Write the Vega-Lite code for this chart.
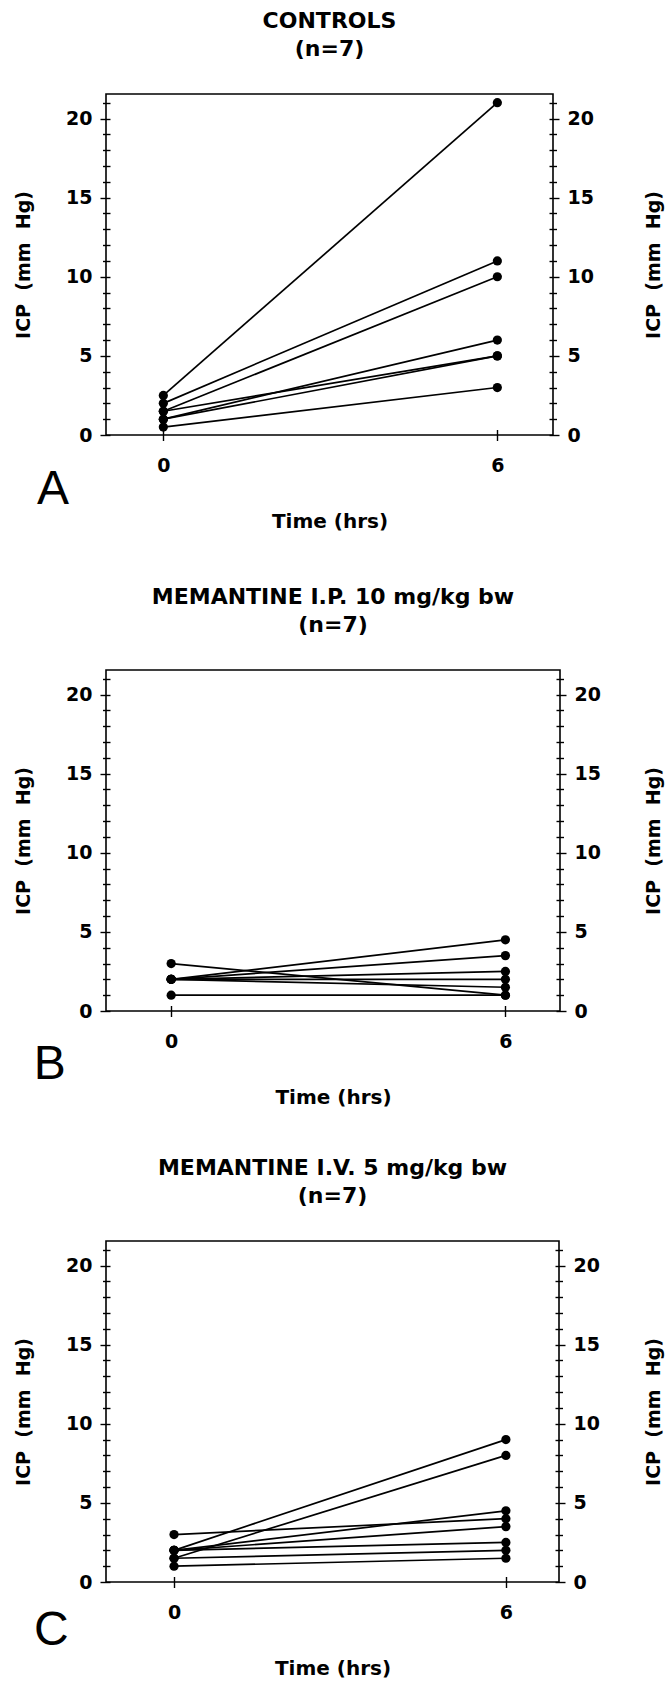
{
  "$schema": "https://vega.github.io/schema/vega-lite/v6.json",
  "padding": {"left": 13, "top": 8, "right": 0, "bottom": 0},
  "background": "white",
  "data": {"values": [
    {"panel": "A", "subject": "a1", "time": 0, "icp": 2.5}, {"panel": "A", "subject": "a1", "time": 6, "icp": 21},
    {"panel": "A", "subject": "a2", "time": 0, "icp": 2.0}, {"panel": "A", "subject": "a2", "time": 6, "icp": 11},
    {"panel": "A", "subject": "a3", "time": 0, "icp": 1.5}, {"panel": "A", "subject": "a3", "time": 6, "icp": 10},
    {"panel": "A", "subject": "a4", "time": 0, "icp": 1.0}, {"panel": "A", "subject": "a4", "time": 6, "icp": 6},
    {"panel": "A", "subject": "a5", "time": 0, "icp": 1.5}, {"panel": "A", "subject": "a5", "time": 6, "icp": 5},
    {"panel": "A", "subject": "a6", "time": 0, "icp": 1.0}, {"panel": "A", "subject": "a6", "time": 6, "icp": 5},
    {"panel": "A", "subject": "a7", "time": 0, "icp": 0.5}, {"panel": "A", "subject": "a7", "time": 6, "icp": 3},
    {"panel": "B", "subject": "b1", "time": 0, "icp": 3}, {"panel": "B", "subject": "b1", "time": 6, "icp": 1},
    {"panel": "B", "subject": "b2", "time": 0, "icp": 2}, {"panel": "B", "subject": "b2", "time": 6, "icp": 4.5},
    {"panel": "B", "subject": "b3", "time": 0, "icp": 2}, {"panel": "B", "subject": "b3", "time": 6, "icp": 3.5},
    {"panel": "B", "subject": "b4", "time": 0, "icp": 2}, {"panel": "B", "subject": "b4", "time": 6, "icp": 2.5},
    {"panel": "B", "subject": "b5", "time": 0, "icp": 2}, {"panel": "B", "subject": "b5", "time": 6, "icp": 2},
    {"panel": "B", "subject": "b6", "time": 0, "icp": 2}, {"panel": "B", "subject": "b6", "time": 6, "icp": 1.5},
    {"panel": "B", "subject": "b7", "time": 0, "icp": 1}, {"panel": "B", "subject": "b7", "time": 6, "icp": 1},
    {"panel": "C", "subject": "c1", "time": 0, "icp": 2}, {"panel": "C", "subject": "c1", "time": 6, "icp": 9},
    {"panel": "C", "subject": "c2", "time": 0, "icp": 1.5}, {"panel": "C", "subject": "c2", "time": 6, "icp": 8},
    {"panel": "C", "subject": "c3", "time": 0, "icp": 3}, {"panel": "C", "subject": "c3", "time": 6, "icp": 4.0},
    {"panel": "C", "subject": "c4", "time": 0, "icp": 2}, {"panel": "C", "subject": "c4", "time": 6, "icp": 4.5},
    {"panel": "C", "subject": "c5", "time": 0, "icp": 2}, {"panel": "C", "subject": "c5", "time": 6, "icp": 3.5},
    {"panel": "C", "subject": "c6", "time": 0, "icp": 2}, {"panel": "C", "subject": "c6", "time": 6, "icp": 2.5},
    {"panel": "C", "subject": "c7", "time": 0, "icp": 1.5}, {"panel": "C", "subject": "c7", "time": 6, "icp": 2},
    {"panel": "C", "subject": "c8", "time": 0, "icp": 1}, {"panel": "C", "subject": "c8", "time": 6, "icp": 1.5}
  ]},
  "spacing": 51,
  "vconcat": [
    {
      "width": 447, "height": 341,
      "title": {"text": ["CONTROLS", "(n=7)"]},
      "transform": [{"filter": "datum.panel === 'A'"}],
      "layer": [
        {
          "mark": {"type": "line", "color": "black", "strokeWidth": 1.7},
          "encoding": {
            "x": {"field": "time", "type": "quantitative", "scale": {"domain": [-1.03, 7], "nice": false, "zero": false},
              "axis": {"values": [0, 6], "tickSize": 11, "offset": -5.5, "labelPadding": 16, "title": "Time (hrs)", "titlePadding": 36}},
            "y": {"field": "icp", "type": "quantitative", "scale": {"domain": [0, 21.55], "nice": false},
              "axis": {"orient": "left", "values": [0,1,2,3,4,5,6,7,8,9,10,11,12,13,14,15,16,17,18,19,20,21],
                "labelExpr": "datum.value % 5 === 0 ? datum.label : ''",
                "tickSize": {"condition": {"test": "datum.value % 5 === 0", "value": 10}, "value": 7.5},
                "offset": -4, "labelPadding": 8, "title": "ICP\u00a0\u00a0(mm\u00a0\u00a0Hg)", "titlePadding": 32}},
            "detail": {"field": "subject"}
          }
        },
        {
          "mark": {"type": "point", "filled": true, "color": "black", "size": 85, "opacity": 1},
          "encoding": {
            "x": {"field": "time", "type": "quantitative", "scale": {"domain": [-1.03, 7], "nice": false, "zero": false},
              "axis": {"values": [0, 6], "tickSize": 11, "offset": -5.5, "labelPadding": 16, "title": "Time (hrs)", "titlePadding": 36}},
            "y": {"field": "icp", "type": "quantitative", "scale": {"domain": [0, 21.55], "nice": false},
              "axis": {"orient": "right", "values": [0,1,2,3,4,5,6,7,8,9,10,11,12,13,14,15,16,17,18,19,20,21],
                "labelExpr": "datum.value % 5 === 0 ? datum.label : ''",
                "tickSize": {"condition": {"test": "datum.value % 5 === 0", "value": 10}, "value": 7.5},
                "offset": -4, "labelPadding": 8, "title": "ICP\u00a0\u00a0(mm\u00a0\u00a0Hg)", "titleAngle": 270, "titlePadding": 70}}
          }
        },
        {
          "data": {"values": [{"label": "A"}]},
          "mark": {"type": "text", "font": "Liberation Sans", "fontSize": 48, "fontWeight": "normal", "align": "center", "baseline": "alphabetic", "color": "black"},
          "encoding": {
            "x": {"datum": -1.98, "type": "quantitative", "scale": {"domain": [-1.03, 7], "nice": false, "zero": false},
              "axis": {"values": [0, 6], "tickSize": 11, "offset": -5.5, "labelPadding": 16, "title": "Time (hrs)", "titlePadding": 36}},
            "y": {"datum": -4.35, "type": "quantitative", "scale": {"domain": [0, 21.55], "nice": false}, "axis": null},
            "text": {"field": "label"}
          }
        }
      ],
      "resolve": {"axis": {"y": "independent"}}
    },
    {
      "spacing": 46,
      "vconcat": [
        {
          "width": 454, "height": 341,
          "title": {"text": ["MEMANTINE I.P. 10 mg/kg bw", "(n=7)"]},
          "transform": [{"filter": "datum.panel === 'B'"}],
          "layer": [
            {
              "mark": {"type": "line", "color": "black", "strokeWidth": 1.7},
              "encoding": {
                "x": {"field": "time", "type": "quantitative", "scale": {"domain": [-1.17, 6.98], "nice": false, "zero": false},
                  "axis": {"values": [0, 6], "tickSize": 11, "offset": -5.5, "labelPadding": 16, "title": "Time (hrs)", "titlePadding": 36}},
                "y": {"field": "icp", "type": "quantitative", "scale": {"domain": [0, 21.55], "nice": false},
                  "axis": {"orient": "left", "values": [0,1,2,3,4,5,6,7,8,9,10,11,12,13,14,15,16,17,18,19,20,21],
                    "labelExpr": "datum.value % 5 === 0 ? datum.label : ''",
                    "tickSize": {"condition": {"test": "datum.value % 5 === 0", "value": 10}, "value": 7.5},
                    "offset": -4, "labelPadding": 8, "title": "ICP\u00a0\u00a0(mm\u00a0\u00a0Hg)", "titlePadding": 32}},
                "detail": {"field": "subject"}
              }
            },
            {
              "mark": {"type": "point", "filled": true, "color": "black", "size": 85, "opacity": 1},
              "encoding": {
                "x": {"field": "time", "type": "quantitative", "scale": {"domain": [-1.17, 6.98], "nice": false, "zero": false},
                  "axis": {"values": [0, 6], "tickSize": 11, "offset": -5.5, "labelPadding": 16, "title": "Time (hrs)", "titlePadding": 36}},
                "y": {"field": "icp", "type": "quantitative", "scale": {"domain": [0, 21.55], "nice": false},
                  "axis": {"orient": "right", "values": [0,1,2,3,4,5,6,7,8,9,10,11,12,13,14,15,16,17,18,19,20,21],
                    "labelExpr": "datum.value % 5 === 0 ? datum.label : ''",
                    "tickSize": {"condition": {"test": "datum.value % 5 === 0", "value": 10}, "value": 7.5},
                    "offset": -4, "labelPadding": 8, "title": "ICP\u00a0\u00a0(mm\u00a0\u00a0Hg)", "titleAngle": 270, "titlePadding": 63}}
              }
            },
            {
              "data": {"values": [{"label": "B"}]},
              "mark": {"type": "text", "font": "Liberation Sans", "fontSize": 48, "fontWeight": "normal", "align": "center", "baseline": "alphabetic", "color": "black"},
              "encoding": {
                "x": {"datum": -2.18, "type": "quantitative", "scale": {"domain": [-1.17, 6.98], "nice": false, "zero": false},
                  "axis": {"values": [0, 6], "tickSize": 11, "offset": -5.5, "labelPadding": 16, "title": "Time (hrs)", "titlePadding": 36}},
                "y": {"datum": -4.3, "type": "quantitative", "scale": {"domain": [0, 21.55], "nice": false}, "axis": null},
                "text": {"field": "label"}
              }
            }
          ],
          "resolve": {"axis": {"y": "independent"}}
        },
        {
          "width": 453, "height": 341,
          "title": {"text": ["MEMANTINE I.V. 5 mg/kg bw", "(n=7)"]},
          "transform": [{"filter": "datum.panel === 'C'"}],
          "layer": [
            {
              "mark": {"type": "line", "color": "black", "strokeWidth": 1.7},
              "encoding": {
                "x": {"field": "time", "type": "quantitative", "scale": {"domain": [-1.23, 6.96], "nice": false, "zero": false},
                  "axis": {"values": [0, 6], "tickSize": 11, "offset": -5.5, "labelPadding": 16, "title": "Time (hrs)", "titlePadding": 36}},
                "y": {"field": "icp", "type": "quantitative", "scale": {"domain": [0, 21.55], "nice": false},
                  "axis": {"orient": "left", "values": [0,1,2,3,4,5,6,7,8,9,10,11,12,13,14,15,16,17,18,19,20,21],
                    "labelExpr": "datum.value % 5 === 0 ? datum.label : ''",
                    "tickSize": {"condition": {"test": "datum.value % 5 === 0", "value": 10}, "value": 7.5},
                    "offset": -4, "labelPadding": 8, "title": "ICP\u00a0\u00a0(mm\u00a0\u00a0Hg)", "titlePadding": 32}},
                "detail": {"field": "subject"}
              }
            },
            {
              "mark": {"type": "point", "filled": true, "color": "black", "size": 85, "opacity": 1},
              "encoding": {
                "x": {"field": "time", "type": "quantitative", "scale": {"domain": [-1.23, 6.96], "nice": false, "zero": false},
                  "axis": {"values": [0, 6], "tickSize": 11, "offset": -5.5, "labelPadding": 16, "title": "Time (hrs)", "titlePadding": 36}},
                "y": {"field": "icp", "type": "quantitative", "scale": {"domain": [0, 21.55], "nice": false},
                  "axis": {"orient": "right", "values": [0,1,2,3,4,5,6,7,8,9,10,11,12,13,14,15,16,17,18,19,20,21],
                    "labelExpr": "datum.value % 5 === 0 ? datum.label : ''",
                    "tickSize": {"condition": {"test": "datum.value % 5 === 0", "value": 10}, "value": 7.5},
                    "offset": -4, "labelPadding": 8, "title": "ICP\u00a0\u00a0(mm\u00a0\u00a0Hg)", "titleAngle": 270, "titlePadding": 64}}
              }
            },
            {
              "data": {"values": [{"label": "C"}]},
              "mark": {"type": "text", "font": "Liberation Sans", "fontSize": 48, "fontWeight": "normal", "align": "center", "baseline": "alphabetic", "color": "black"},
              "encoding": {
                "x": {"datum": -2.22, "type": "quantitative", "scale": {"domain": [-1.23, 6.96], "nice": false, "zero": false},
                  "axis": {"values": [0, 6], "tickSize": 11, "offset": -5.5, "labelPadding": 16, "title": "Time (hrs)", "titlePadding": 36}},
                "y": {"datum": -4.0, "type": "quantitative", "scale": {"domain": [0, 21.55], "nice": false}, "axis": null},
                "text": {"field": "label"}
              }
            }
          ],
          "resolve": {"axis": {"y": "independent"}}
        }
      ]
    }
  ],
  "config": {
    "view": {"stroke": "black", "strokeWidth": 1.6},
    "axis": {
      "domain": false, "grid": false, "tickColor": "black", "tickWidth": 1.4,
      "labelFont": "DejaVu Sans", "labelFontWeight": "bold", "labelFontSize": 19, "labelColor": "black",
      "labelOverlap": false, "labelFlush": false,
      "titleFont": "DejaVu Sans", "titleFontWeight": "bold", "titleFontSize": 19, "titleColor": "black"
    },
    "axisX": {"titleFontSize": 20},
    "title": {"font": "DejaVu Sans", "fontWeight": "bold", "fontSize": 22, "lineHeight": 28, "offset": 33, "baseline": "bottom", "anchor": "middle", "color": "black"}
  }
}
